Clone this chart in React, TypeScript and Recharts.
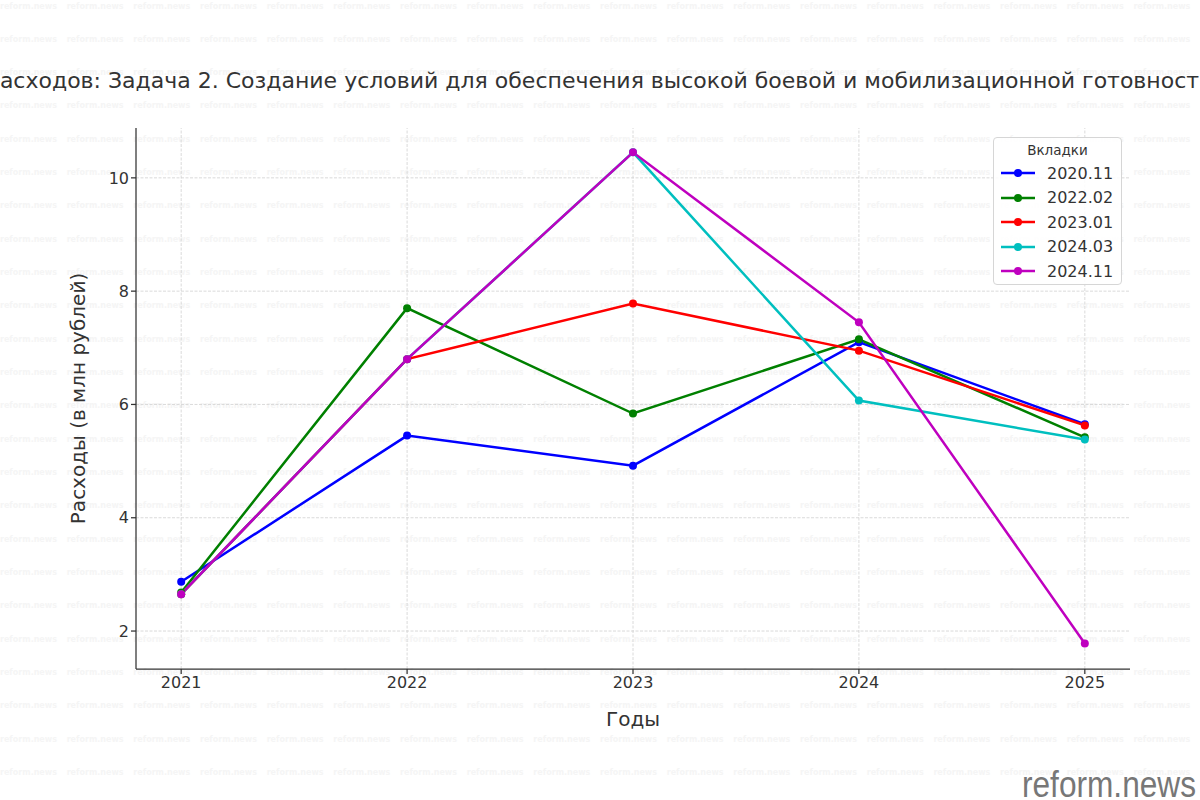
import React from 'react';
import { LineChart, Line, XAxis, YAxis, ReferenceLine } from 'recharts';

const years = [2021, 2022, 2023, 2024, 2025];
const tab2020_11 = [2.87, 5.45, 4.92, 7.1, 5.65];
const tab2022_02 = [2.68, 7.7, 5.84, 7.15, 5.42];
const tab2023_01 = [2.65, 6.8, 7.78, 6.95, 5.63];
const tab2024_03 = [2.65, 6.8, 10.45, 6.07, 5.38];
const tab2024_11 = [2.65, 6.8, 10.45, 7.45, 1.78];
const yTicks = [2, 4, 6, 8, 10];

const series = [
  { key: '2020.11', values: tab2020_11, color: '#0000ff' },
  { key: '2022.02', values: tab2022_02, color: '#008000' },
  { key: '2023.01', values: tab2023_01, color: '#ff0000' },
  { key: '2024.03', values: tab2024_03, color: '#00bfbf' },
  { key: '2024.11', values: tab2024_11, color: '#bf00bf' },
];

const data = years.map((year, i) => {
  const row: Record<string, number> = { year };
  series.forEach((s) => {
    row[s.key] = s.values[i];
  });
  return row;
});

const FONT = '"DejaVu Sans", sans-serif';
const title =
  'Расходов: Задача 2. Создание условий для обеспечения высокой боевой и мобилизационной готовности';
const gridStyle = { stroke: '#d0d0d0', strokeDasharray: '3 1.5', strokeWidth: 0.8 };

const LegendBox = () => (
  <div
    style={{
      position: 'absolute',
      left: 993,
      top: 137,
      width: 129,
      height: 148,
      border: '1px solid #d6d6d6',
      borderRadius: 4,
      background: 'rgba(255,255,255,0.85)',
      fontFamily: FONT,
      color: '#333',
      boxSizing: 'border-box',
    }}
  >
    <div style={{ textAlign: 'center', fontSize: 13.5, marginTop: 4, height: 19 }}>Вкладки</div>
    {series.map((s) => (
      <div key={s.key} style={{ display: 'flex', alignItems: 'center', height: 24.5 }}>
        <svg width={47} height={12} style={{ marginLeft: 6 }}>
          <line x1={1} x2={35} y1={6} y2={6} stroke={s.color} strokeWidth={2.5} />
          <circle cx={18} cy={6} r={4} fill={s.color} />
        </svg>
        <span style={{ fontSize: 16 }}>{s.key}</span>
      </div>
    ))}
  </div>
);

// faint tiled watermark of the source site
const Watermarks = () => {
  const items = [];
  for (let r = 0; r < 24; r++) {
    for (let c = 0; c < 18; c++) {
      items.push(
        <text
          key={`${r}-${c}`}
          x={c * 66.67}
          y={8.5 + r * 33.33}
          fontSize={8}
          fontWeight="bold"
          fill="#f5f5f5"
          fontFamily={FONT}
        >
          reform.news
        </text>
      );
    }
  }
  return <g>{items}</g>;
};

export default function App() {
  return (
    <div style={{ position: 'absolute', left: 0, top: 0, width: 1200, height: 800, background: '#fff', fontFamily: FONT, overflow: 'hidden' }}>
      <svg width={1200} height={800} style={{ position: 'absolute', left: 0, top: 0 }}>
        <Watermarks />
        <text x={600} y={88} textAnchor="middle" fontSize={22} fill="#333" fontFamily={FONT}>
          {title}
        </text>
        <text
          x={1196}
          y={797}
          textAnchor="end"
          fontSize={36}
          fill="#777"
          textLength={174}
          lengthAdjust="spacingAndGlyphs"
          fontFamily='"Liberation Sans Narrow", "Liberation Sans", sans-serif'
        >
          reform.news
        </text>
      </svg>
      <div style={{ position: 'absolute', left: 0, top: 0 }}>
        <LineChart width={1200} height={800} data={data} margin={{ top: 128, right: 70, left: 0, bottom: 0 }}>
          {yTicks.map((v) => (
            <ReferenceLine key={`h${v}`} y={v} {...gridStyle} />
          ))}
          {years.map((v) => (
            <ReferenceLine key={`v${v}`} x={v} {...gridStyle} />
          ))}
          <XAxis
            dataKey="year"
            type="number"
            domain={[2020.8, 2025.2]}
            ticks={years}
            allowDataOverflow
            height={131}
            tickSize={5}
            tickMargin={3}
            stroke="#333"
            strokeWidth={1.25}
            tick={{ fontSize: 16, fill: '#333', fontFamily: FONT }}
            label={{
              content: ({ viewBox }: any) => (
                <text
                  x={viewBox.x + viewBox.width / 2}
                  y={viewBox.y + 57}
                  textAnchor="middle"
                  fontSize={20}
                  fill="#333"
                  fontFamily={FONT}
                >
                  Годы
                </text>
              ),
            }}
          />
          <YAxis
            type="number"
            domain={[1.33, 10.88]}
            ticks={yTicks}
            allowDataOverflow
            width={136}
            tickSize={5}
            tickMargin={2}
            stroke="#333"
            strokeWidth={1.25}
            tick={{ fontSize: 16, fill: '#333', fontFamily: FONT }}
            label={{
              content: ({ viewBox }: any) => {
                const cx = 85;
                const cy = viewBox.y + viewBox.height / 2;
                return (
                  <text
                    x={cx}
                    y={cy}
                    textAnchor="middle"
                    fontSize={20}
                    fill="#333"
                    fontFamily={FONT}
                    transform={`rotate(-90 ${cx} ${cy})`}
                  >
                    Расходы (в млн рублей)
                  </text>
                );
              },
            }}
          />
          {series.map((s) => (
            <Line
              key={s.key}
              dataKey={s.key}
              name={s.key}
              type="linear"
              stroke={s.color}
              strokeWidth={2.5}
              dot={{ r: 4, fill: s.color, stroke: s.color, strokeWidth: 0 }}
              activeDot={false}
              isAnimationActive={false}
            />
          ))}
        </LineChart>
      </div>
      <LegendBox />
    </div>
  );
}
